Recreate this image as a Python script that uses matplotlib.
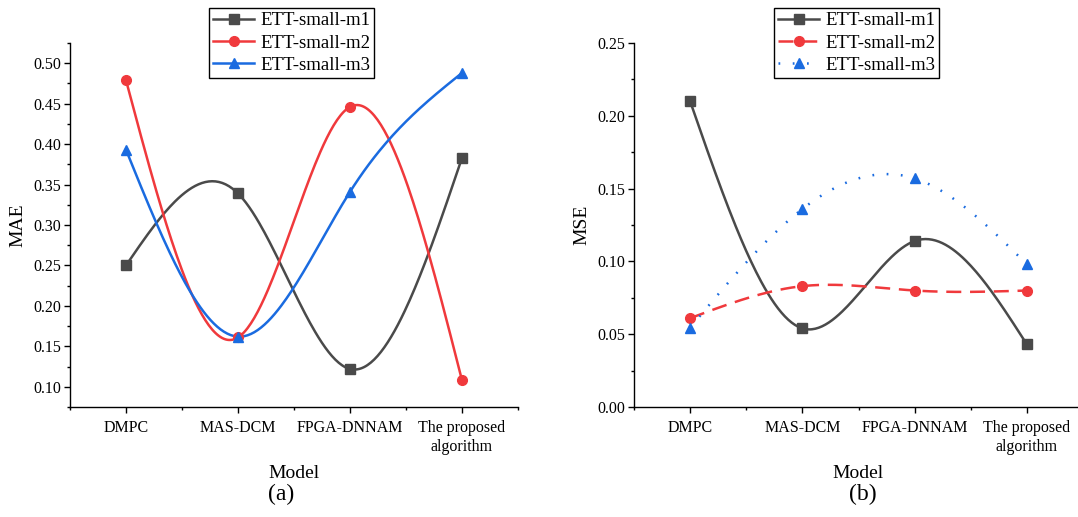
import numpy as np
import matplotlib
matplotlib.use("Agg")
import matplotlib.pyplot as plt
from matplotlib.ticker import MultipleLocator, FixedLocator, FormatStrFormatter

plt.rcParams['font.family'] = ['Liberation Serif', 'DejaVu Serif']

models = ["DMPC", "MAS-DCM", "FPGA-DNNAM", "The proposed\nalgorithm"]
series_names = ["ETT-small-m1", "ETT-small-m2", "ETT-small-m3"]

mae_m1 = [0.250, 0.339, 0.122, 0.383]
mae_m2 = [0.479, 0.161, 0.446, 0.108]
mae_m3 = [0.393, 0.162, 0.341, 0.488]

mse_m1 = [0.210, 0.054, 0.114, 0.043]
mse_m2 = [0.061, 0.083, 0.080, 0.080]
mse_m3 = [0.0545, 0.136, 0.157, 0.098]

colors = ["#4a4a4a", "#f0393c", "#1a6be0"]
markers = ["s", "o", "^"]


def natural_spline(x, y, n=200):
    x = np.asarray(x, float)
    y = np.asarray(y, float)
    k = len(x)
    h = np.diff(x)
    A = np.zeros((k, k))
    b = np.zeros(k)
    A[0, 0] = 1
    A[-1, -1] = 1
    for i in range(1, k - 1):
        A[i, i - 1] = h[i - 1]
        A[i, i] = 2 * (h[i - 1] + h[i])
        A[i, i + 1] = h[i]
        b[i] = 6 * ((y[i + 1] - y[i]) / h[i] - (y[i] - y[i - 1]) / h[i - 1])
    M = np.linalg.solve(A, b)
    xs = np.linspace(x[0], x[-1], n)
    ys = np.empty_like(xs)
    for j, xv in enumerate(xs):
        i = min(np.searchsorted(x, xv) - 1, k - 2)
        i = max(i, 0)
        t1 = x[i + 1] - xv
        t0 = xv - x[i]
        hi = h[i]
        ys[j] = (M[i] * t1 ** 3 / (6 * hi) + M[i + 1] * t0 ** 3 / (6 * hi)
                 + (y[i] / hi - M[i] * hi / 6) * t1
                 + (y[i + 1] / hi - M[i + 1] * hi / 6) * t0)
    return xs, ys


W, H = 1078, 517
fig = plt.figure(figsize=(W / 100, H / 100), dpi=100)

ax1 = fig.add_axes([70 / W, 1 - 407 / H, 448 / W, 364 / H])
ax2 = fig.add_axes([634 / W, 1 - 407 / H, 449 / W, 364 / H])

xpos = np.arange(1, len(models) + 1)
LW = 1.8
MS = 7


def style_axis(ax, ylim, major, minor, ylabel):
    for s in ["top", "right"]:
        ax.spines[s].set_visible(False)
    for s in ["left", "bottom"]:
        ax.spines[s].set_linewidth(1.0)
    ax.set_xlim(0.5, 4.5)
    ax.set_ylim(*ylim)
    ax.xaxis.set_major_locator(FixedLocator(xpos))
    ax.xaxis.set_minor_locator(FixedLocator(np.arange(0.5, 4.6, 1.0)))
    ax.set_xticklabels(models, fontsize=11.5, linespacing=1.2)
    ax.yaxis.set_major_locator(MultipleLocator(major))
    ax.yaxis.set_minor_locator(MultipleLocator(minor))
    ax.yaxis.set_major_formatter(FormatStrFormatter("%.2f"))
    ax.tick_params(axis="both", which="major", direction="out", length=4.5, width=1.0, labelsize=11.5)
    ax.tick_params(axis="both", which="minor", direction="out", length=2.5, width=1.0)
    ax.tick_params(axis="x", which="major", pad=5)
    ax.tick_params(axis="y", which="major", pad=2)
    ax.set_ylabel(ylabel, fontsize=14, labelpad=5)


def add_legend(handles, x_px):
    fig.legend(handles, series_names, loc="upper left",
               bbox_to_anchor=(x_px / W, 1 - 8 / H), bbox_transform=fig.transFigure,
               borderaxespad=0, fontsize=13.5, frameon=True, fancybox=False,
               edgecolor="black", framealpha=1, handlelength=2.2, handletextpad=0.3,
               labelspacing=0.28, borderpad=0.22)


# (a) MAE
for vals, c, m in zip([mae_m1, mae_m2, mae_m3], colors, markers):
    xs, ys = natural_spline(xpos, vals)
    ax1.plot(xs, ys, color=c, lw=LW, zorder=2)
    ax1.plot(xpos, vals, linestyle="none", marker=m, color=c, markersize=MS, zorder=3)
style_axis(ax1, (0.075, 0.525), 0.05, 0.025, "MAE")

handles1 = [plt.Line2D([], [], color=c, lw=LW, marker=m, markersize=MS)
            for c, m in zip(colors, markers)]
add_legend(handles1, 209)

# (b) MSE
styles = ["-", (0, (6, 3.5)), (0, (0.7, 5))]
for vals, c, m, ls in zip([mse_m1, mse_m2, mse_m3], colors, markers, styles):
    xs, ys = natural_spline(xpos, vals)
    ax2.plot(xs, ys, color=c, lw=LW, linestyle=ls, zorder=2)
    ax2.plot(xpos, vals, linestyle="none", marker=m, color=c, markersize=MS, zorder=3)
style_axis(ax2, (0.0, 0.25), 0.05, 0.025, "MSE")

handles2 = [plt.Line2D([], [], color=c, lw=LW, linestyle=ls, marker=m, markersize=MS)
            for c, m, ls in zip(colors, markers, styles)]
add_legend(handles2, 774)

# axis titles and panel labels
fig.text(294 / W, 1 - 473 / H, "Model", fontsize=14, ha="center", va="center")
fig.text(281 / W, 1 - 494 / H, "(a)", fontsize=17, ha="center", va="center")
fig.text(858 / W, 1 - 473 / H, "Model", fontsize=14, ha="center", va="center")
fig.text(863 / W, 1 - 494 / H, "(b)", fontsize=17, ha="center", va="center")

fig.savefig("out.png", dpi=100)
